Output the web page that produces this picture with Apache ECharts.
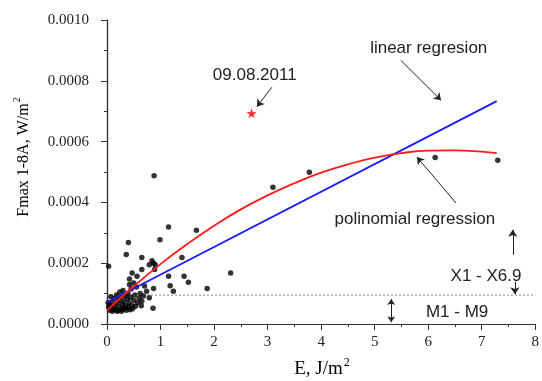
<!DOCTYPE html>
<html>
<head>
<meta charset="utf-8">
<script src="https://cdn.jsdelivr.net/npm/echarts@6/dist/echarts.min.js"></script>
<style>
html, body { margin: 0; padding: 0; background: #fff; }
#c { width: 542px; height: 381px; }
</style>
</head>
<body>
<div id="c"></div>
<script>
// Flare energy E (J/m^2) against peak 1-8 A flux (W/m^2)
const energyE = [
  0.88, 1.15, 1.67, 0.99, 0.40, 0.36, 0.65, 1.40, 0.84, 0.87, 0.79, 0.03, 0.65, 0.89,
  2.31, 0.47, 0.56, 1.15, 1.44, 1.52, 1.18, 1.87, 0.87, 1.24, 0.74, 0.65, 0.79, 0.86,
  0.42, 3.10, 3.78, 6.13, 7.30, 0.90,
  0.05, 0.08, 0.10, 0.12, 0.14, 0.15, 0.17, 0.18, 0.20, 0.21, 0.22, 0.24, 0.25, 0.26,
  0.28, 0.29, 0.30, 0.31, 0.33, 0.34, 0.35, 0.36, 0.38, 0.39, 0.40, 0.41, 0.43, 0.44,
  0.45, 0.46, 0.48, 0.50, 0.52, 0.53, 0.55, 0.57, 0.60, 0.62, 0.64, 0.68, 0.70, 0.05,
  0.10, 0.19, 0.27, 0.02, 0.07, 0.03, 0.50, 0.42
];
const fluxF = [
  0.000488, 0.000319, 0.000308, 0.000277, 0.000268, 0.000229, 0.000219, 0.000219, 0.000208, 0.000200, 0.000195, 0.000190, 0.000179, 0.000179,
  0.000168, 0.000168, 0.000157, 0.000157, 0.000157, 0.000137, 0.000126, 0.000117, 0.000117, 0.000108, 0.000108, 0.000075, 0.000086, 0.000052,
  0.000148, 0.000450, 0.000499, 0.000548, 0.000539, 0.000195,
  0.000062, 0.000055, 0.000072, 0.000048, 0.000085, 0.000060, 0.000050, 0.000095, 0.000068, 0.000045, 0.000078, 0.000105, 0.000055, 0.000088,
  0.000048, 0.000065, 0.000110, 0.000075, 0.000052, 0.000092, 0.000060, 0.000045, 0.000082, 0.000100, 0.000055, 0.000070, 0.000047, 0.000088,
  0.000115, 0.000062, 0.000050, 0.000078, 0.000095, 0.000058, 0.000122, 0.000070, 0.000085, 0.000100, 0.000060, 0.000092, 0.000125, 0.000045,
  0.000042, 0.000042, 0.000042, 0.000070, 0.000090, 0.000055, 0.000135, 0.000130
];

// The 09.08.2011 event
const eventE = [2.70];
const eventF = [0.000693];

// Linear regression line
const linearE = [0, 7.28];
const linearF = [0.0000715, 0.000733];

// Polynomial regression curve
const polyE = [0, 0.5, 1, 1.5, 2, 2.5, 3, 3.5, 4, 4.5, 5, 5.5, 6, 6.5, 7, 7.28];
const polyF = [0.000045, 0.000124, 0.000197, 0.000263, 0.000323, 0.000377, 0.000423, 0.000463,
               0.000498, 0.000525, 0.000547, 0.000562, 0.000570, 0.000571, 0.000567, 0.000562];

// M/X class boundary
const boundaryE = [0, 8];
const boundaryF = [0.000095, 0.000095];

// Axis ticks
const xTicks = { min: 0, max: 8, step: 1 };
const yTicks = { min: 0, max: 0.001, step: 0.0002 };

const zip = (a, b) => a.map((v, i) => [v, b[i]]);

const SERIF = '"Liberation Serif", "DejaVu Serif", serif';
const SANS = '"Liberation Sans", Arial, sans-serif';
const AXIS_COLOR = '#333';

const chart = echarts.init(document.getElementById('c'), null, { renderer: 'canvas' });

const baseAxisLine = { show: true, lineStyle: { color: AXIS_COLOR, width: 1.2 } };

chart.setOption({
  animation: false,
  backgroundColor: '#fff',
  grid: { left: 107, right: 5, top: 20, bottom: 57, containLabel: false },
  xAxis: [
    {
      type: 'value', position: 'bottom',
      min: xTicks.min, max: xTicks.max, interval: xTicks.step,
      axisLine: baseAxisLine,
      axisTick: { show: true, inside: false, length: 6, lineStyle: { color: AXIS_COLOR } },
      minorTick: { show: true, splitNumber: 2, length: 3, lineStyle: { color: AXIS_COLOR } },
      splitLine: { show: false },
      axisLabel: { margin: 11, color: '#222', fontFamily: SERIF, fontSize: 15 }
    },
    {
      type: 'value', position: 'top',
      min: xTicks.min, max: xTicks.max, interval: xTicks.step,
      axisLine: baseAxisLine,
      axisTick: { show: true, inside: true, length: 6, lineStyle: { color: AXIS_COLOR } },
      minorTick: { show: true, splitNumber: 2, length: 3, lineStyle: { color: AXIS_COLOR } },
      splitLine: { show: false },
      axisLabel: { show: false }
    }
  ],
  yAxis: [
    {
      type: 'value', position: 'left',
      min: yTicks.min, max: yTicks.max, interval: yTicks.step,
      axisLine: baseAxisLine,
      axisTick: { show: true, inside: false, length: 6, lineStyle: { color: AXIS_COLOR } },
      minorTick: { show: true, splitNumber: 2, length: 3, lineStyle: { color: AXIS_COLOR } },
      splitLine: { show: false },
      axisLabel: {
        margin: 18, color: '#222', fontFamily: SERIF, fontSize: 15,
        formatter: v => v.toFixed(4)
      }
    },
    {
      type: 'value', position: 'right',
      min: yTicks.min, max: yTicks.max, interval: yTicks.step,
      axisLine: baseAxisLine,
      axisTick: { show: true, inside: true, length: 6, lineStyle: { color: AXIS_COLOR } },
      minorTick: { show: true, splitNumber: 2, length: 3, lineStyle: { color: AXIS_COLOR } },
      splitLine: { show: false },
      axisLabel: { show: false }
    }
  ],
  series: [
    {
      name: 'M/X boundary', type: 'line', data: zip(boundaryE, boundaryF),
      symbol: 'none', lineStyle: { color: '#888', width: 1, type: [2, 2] }, z: 1
    },
    {
      name: 'flares', type: 'scatter', data: zip(energyE, fluxF),
      symbol: 'circle', symbolSize: 5.5, itemStyle: { color: '#000' }, z: 2
    },
    {
      name: 'linear regression', type: 'line', data: zip(linearE, linearF),
      symbol: 'none', lineStyle: { color: '#1a1aff', width: 1.8 }, z: 3
    },
    {
      name: 'polinomial regression', type: 'line', data: zip(polyE, polyF),
      smooth: true, symbol: 'none', lineStyle: { color: '#ff1a1a', width: 1.8 }, z: 4
    },
    {
      name: '09.08.2011', type: 'scatter', data: zip(eventE, eventF),
      symbol: 'path://M0,-10 L2.35,-3.24 L9.51,-3.09 L3.8,1.24 L5.88,8.09 L0,4 L-5.88,8.09 L-3.8,1.24 L-9.51,-3.09 L-2.35,-3.24 Z',
      symbolSize: 10, itemStyle: { color: '#ff0000' }, z: 5
    },
    {
      name: 'pointers', type: 'lines', coordinateSystem: 'cartesian2d',
      symbol: ['none', 'arrow'], symbolSize: 7,
      lineStyle: { color: '#222', width: 1, opacity: 1 },
      data: [
        { coords: [[3.08, 0.000779], [2.80, 0.000715]] },
        { coords: [[5.49, 0.000867], [6.24, 0.000736]] },
        { coords: [[6.52, 0.000398], [5.79, 0.000549]] },
        { coords: [[7.58, 0.000228], [7.58, 0.000310]] },
        { coords: [[7.62, 0.000139], [7.62, 0.000098]] }
      ],
      z: 6
    },
    {
      name: 'range', type: 'lines', coordinateSystem: 'cartesian2d',
      symbol: ['arrow', 'arrow'], symbolSize: 6,
      lineStyle: { color: '#222', width: 1, opacity: 1 },
      data: [{ coords: [[5.31, 0.000082], [5.31, 0.000006]] }],
      z: 6
    }
  ]
});

// Text annotations anchored in data units
const notes = [
  { text: '09.08.2011', at: [2.76, 0.000818] },
  { text: 'linear regresion', at: [6.01, 0.000907] },
  { text: 'polinomial regression', at: [5.75, 0.000346] },
  { text: 'X1 - X6.9', at: [7.08, 0.000156] },
  { text: 'M1 - M9', at: [6.54, 0.000038] }
];

const graphics = notes.map(n => {
  const p = chart.convertToPixel({ gridIndex: 0 }, n.at);
  return {
    type: 'text', x: p[0], y: p[1], z: 10,
    style: {
      text: n.text, font: '17px ' + SANS, fill: '#222',
      align: 'center', verticalAlign: 'middle',
      textAlign: 'center', textVerticalAlign: 'middle'
    }
  };
});

// Axis titles with superscript units
const titleRich = (size) => ({
  a: { fontFamily: SERIF, fontSize: size, color: '#222', lineHeight: size + 3, verticalAlign: 'bottom' },
  s: { fontFamily: SERIF, fontSize: Math.round(size * 0.62), color: '#222', lineHeight: size + 3, verticalAlign: 'top', padding: [0, 0, 0, 1] }
});
graphics.push({
  type: 'text', x: 322, y: 368, z: 10,
  style: {
    text: '{a|E, J/m}{s|2}', rich: titleRich(19),
    align: 'center', verticalAlign: 'middle', textAlign: 'center', textVerticalAlign: 'middle'
  }
});
graphics.push({
  type: 'text', x: 22, y: 157, rotation: Math.PI / 2, z: 10,
  style: {
    text: '{a|Fmax 1-8A, W/m}{s|2}', rich: titleRich(16),
    align: 'center', verticalAlign: 'middle', textAlign: 'center', textVerticalAlign: 'middle'
  }
});

chart.setOption({ graphic: graphics });
</script>
</body>
</html>
